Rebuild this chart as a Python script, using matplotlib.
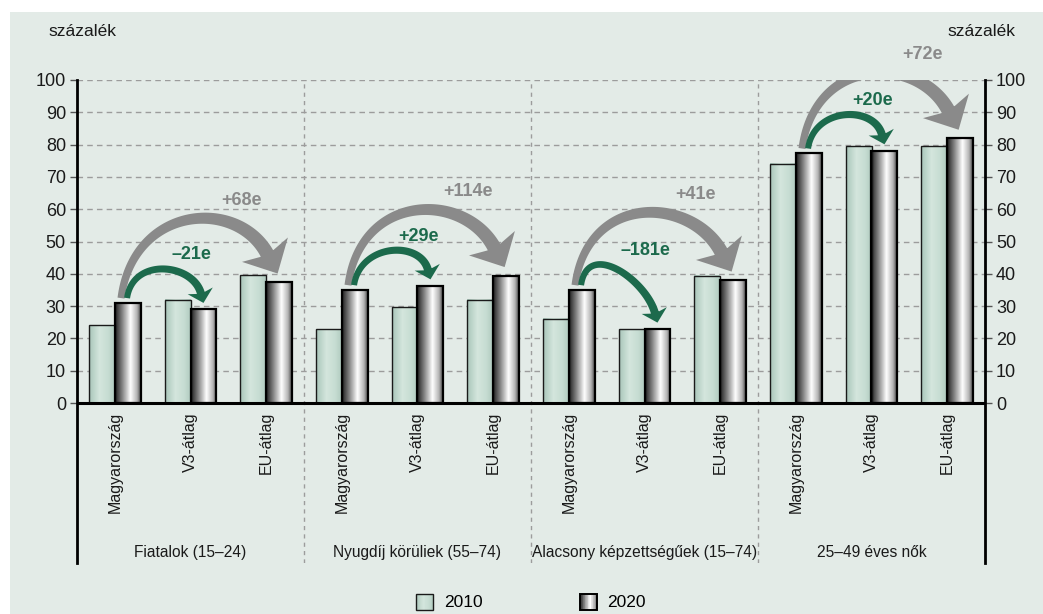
import numpy as np
import matplotlib
matplotlib.use("Agg")
import matplotlib.pyplot as plt
from matplotlib.patches import Rectangle, Polygon
from matplotlib.colors import LinearSegmentedColormap
from matplotlib.legend_handler import HandlerBase

# ---------------- data ----------------
groups = ["Fiatalok (15–24)", "Nyugdíj körüliek (55–74)",
          "Alacsony képzettségűek (15–74)", "25–49 éves nők"]
entities = ["Magyarország", "V3-átlag", "EU-átlag"]
years = ["2010", "2020"]
val_2010 = [24.1, 32.0, 39.5, 22.8, 29.6, 31.9, 26.1, 22.9, 39.4, 74.1, 79.5, 79.5]
val_2020 = [31.0, 29.0, 37.4, 35.0, 36.3, 39.4, 35.0, 22.9, 38.0, 77.3, 78.1, 81.9]
change_v3 = ["–21e", "+29e", "–181e", "+20e"]
change_eu = ["+68e", "+114e", "+41e", "+72e"]
yticks = [0, 10, 20, 30, 40, 50, 60, 70, 80, 90, 100]
unit_label = "százalék"

# ---------------- style ----------------
BG = "#e3ebe7"
GREY = "#8a8a8a"
GREEN = "#1c6a4c"
GRID = "#9c9c9c"
TXT = "#1a1a1a"
FONT = ["Liberation Sans", "DejaVu Sans"]
plt.rcParams["font.family"] = FONT

cmap10 = LinearSegmentedColormap.from_list(
    "c10", [(0, "#a8c5b9"), (0.4, "#d4e6dd"), (0.75, "#c6dcd2"), (1, "#b0cbbf")])
cmap20 = LinearSegmentedColormap.from_list(
    "c20", [(0, "#1e1e1e"), (0.3, "#8c8c8c"), (0.6, "#ffffff"), (0.85, "#b4b4b4"), (1, "#4a4a4a")])

W, H = 1043, 614
fig = plt.figure(figsize=(W / 100, H / 100), dpi=100)
fig.patches.append(Rectangle((10 / W, 0), 1, (H - 12) / H, transform=fig.transFigure,
                             facecolor=BG, edgecolor="none", zorder=-10))

ax = fig.add_axes([77 / W, 51 / H, 908 / W, 483 / H])
ax.set_facecolor("none")
YMIN, YMAX = -49.5, 100
XMIN, XMAX = -0.5, len(val_2010) - 0.5

x = np.arange(len(val_2010))
bw = 0.343
b10 = ax.bar(x - bw / 2, val_2010, bw, facecolor="none", edgecolor="#1a1a1a", linewidth=1.0, zorder=3)
b20 = ax.bar(x + bw / 2, val_2020, bw, facecolor="none", edgecolor="#000000", linewidth=1.6, zorder=3)

grad = np.linspace(0, 1, 128).reshape(1, -1)
for bars, cm in ((b10, cmap10), (b20, cmap20)):
    for p in bars:
        x0, y0, w, h = p.get_x(), p.get_y(), p.get_width(), p.get_height()
        ax.imshow(grad, cmap=cm, extent=[x0, x0 + w, y0, y0 + h], aspect="auto",
                  interpolation="bilinear", zorder=2.5)
ax.set_xlim(XMIN, XMAX)
ax.set_ylim(YMIN, YMAX)

# grid / axes
ax.set_yticks(yticks)
ax.set_xticks([])
ax.grid(axis="y", linestyle=(0, (4, 3)), color=GRID, linewidth=1.0, zorder=1)
ax.vlines([2.5, 5.5, 8.5], YMIN, YMAX, linestyles=(0, (3, 3)), colors=GRID, linewidth=1.0, zorder=1)
ax.axhline(0, color="black", linewidth=2.2, zorder=4)
for s in ("top", "bottom"):
    ax.spines[s].set_visible(False)
for s in ("left", "right"):
    ax.spines[s].set_linewidth(2.0)
    ax.spines[s].set_color("black")
ax.tick_params(axis="y", left=True, right=True, labelleft=True, labelright=True,
               direction="out", length=5, width=1, color="#555555", labelsize=13, pad=3,
               labelcolor=TXT)

fig.text(48 / W, 1 - 32 / H, unit_label, ha="left", va="center", fontsize=12.5, color=TXT)
fig.text(1015 / W, 1 - 32 / H, unit_label, ha="right", va="center", fontsize=12.5, color=TXT)

# category labels
for i in x:
    ax.text(i, -2.8, entities[i % 3], rotation=90, ha="center", va="top",
            fontsize=11.5, color=TXT)
for g, name in enumerate(groups):
    ax.text(3 * g + 1, -46.1, name, ha="center", va="center", fontsize=11.2, color=TXT)

# ---------------- curved arrows (built in display space) ----------------
to_disp = ax.transData.transform
to_data = ax.transData.inverted().transform


def curved_arrow(A, T, color, alpha_deg, beta_deg, r0f, r1f, w0, w1, hl, hw, notch):
    A = to_disp(A)
    T = to_disp(T)
    L = np.hypot(*(T - A))
    da = np.array([np.cos(np.radians(alpha_deg)), np.sin(np.radians(alpha_deg))])
    db = np.array([np.cos(np.radians(beta_deg)), np.sin(np.radians(beta_deg))])
    Hb = T - hl * db
    P0, P1, P2, P3 = A, A + r0f * L * da, Hb - r1f * L * db, Hb
    t = np.linspace(0, 1, 80)[:, None]
    C = (1 - t) ** 3 * P0 + 3 * (1 - t) ** 2 * t * P1 + 3 * (1 - t) * t ** 2 * P2 + t ** 3 * P3
    D = 3 * (1 - t) ** 2 * (P1 - P0) + 6 * (1 - t) * t * (P2 - P1) + 3 * t ** 2 * (P3 - P2)
    D /= np.linalg.norm(D, axis=1, keepdims=True)
    N = np.column_stack([-D[:, 1], D[:, 0]])
    wv = (w0 + (w1 - w0) * t) / 2
    left = C + N * wv
    right = C - N * wv
    nb = np.array([-db[1], db[0]])
    back = Hb - notch * db
    head = [back + nb * hw / 2, T, back - nb * hw / 2]
    pts = np.vstack([left, [Hb + nb * w1 / 2 * 0.6], head, [Hb - nb * w1 / 2 * 0.6], right[::-1]])
    ax.add_patch(Polygon(to_data(pts), closed=True, facecolor=color, edgecolor="none", zorder=5))
    top = C[np.argmax(C[:, 1])]
    return (A + T) / 2, top


for g in range(4):
    i_m, i_v, i_e = 3 * g, 3 * g + 1, 3 * g + 2
    A_grey = (x[i_m] + bw / 2 - 0.09, val_2020[i_m] + 1.5)
    T_grey = (x[i_e] + bw / 2 - 0.02, val_2020[i_e] + 2.7)
    A_green = (x[i_m] + bw / 2 - 0.01, val_2020[i_m] + 1.5)
    T_green = (x[i_v] + bw / 2, val_2020[i_v] + 2.0)
    mid_g, top_g = curved_arrow(A_grey, T_grey, GREY, 82, -62, 0.6, 0.4, 7, 14, 22, 52, 5)
    mid_n, top_n = curved_arrow(A_green, T_green, GREEN, 82, -75, 0.55, 0.4, 6, 8, 10, 26, 2.5)
    lx, ly = to_data((mid_g[0] + 42, top_g[1] + 18))
    ax.text(lx, ly, change_eu[g], ha="center", va="center", fontsize=13, fontweight="bold",
            color=GREY, zorder=6)
    lx, ly = to_data((mid_n[0] + 26, top_n[1] + 14))
    ax.text(lx, ly, change_v3[g], ha="center", va="center", fontsize=13, fontweight="bold",
            color=GREEN, zorder=6)


# ---------------- legend with gradient handles ----------------
class GradHandler(HandlerBase):
    def __init__(self, cmap, ec, lw):
        super().__init__()
        self.cmap, self.ec, self.lw = cmap, ec, lw

    def create_artists(self, legend, orig_handle, xdescent, ydescent, width, height, fontsize, trans):
        arts = []
        n = 24
        for k in range(n):
            arts.append(Rectangle((-xdescent + width * k / n, -ydescent), width / n + 0.3, height,
                                  facecolor=self.cmap((k + 0.5) / n), edgecolor="none", transform=trans))
        arts.append(Rectangle((-xdescent, -ydescent), width, height, facecolor="none",
                              edgecolor=self.ec, linewidth=self.lw, transform=trans))
        return arts


fig.legend(handles=[b10[0], b20[0]], labels=years, loc="center", bbox_to_anchor=(531 / W, 12 / H),
           ncol=2, frameon=False, fontsize=12.5, handlelength=1.0, handleheight=1.05,
           handletextpad=0.6, columnspacing=5.6,
           handler_map={b10[0]: GradHandler(cmap10, "#1a1a1a", 1.0),
                        b20[0]: GradHandler(cmap20, "#000000", 1.4)})

fig.savefig("out.png", dpi=100)
